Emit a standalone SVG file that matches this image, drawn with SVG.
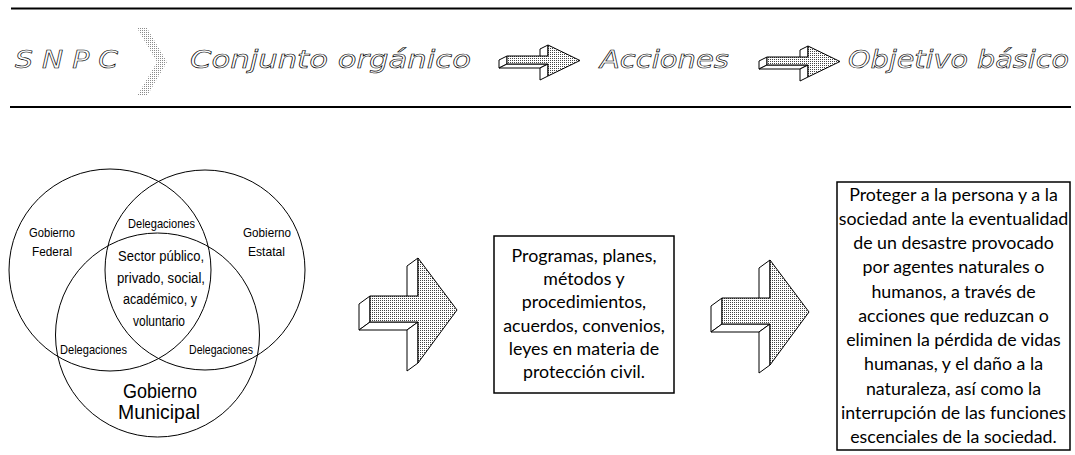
<svg xmlns="http://www.w3.org/2000/svg" width="1075" height="455" viewBox="0 0 1075 455">
<defs>
<pattern id="dots" width="2" height="2" patternUnits="userSpaceOnUse"><rect width="2" height="2" fill="#fff"/><rect width="1" height="1" fill="#444"/></pattern>
<pattern id="dotsLight" width="2" height="2" patternUnits="userSpaceOnUse"><rect width="2" height="2" fill="#fff"/><rect width="1" height="1" fill="#8a8a8a"/></pattern>
<g id="smallArrow">
<polygon class="side" points="507,56 507,64 499,68 499,60"/>
<polygon class="side" points="507,64 548,64 540,68 499,68"/>
<polygon class="side" points="548,45 548,56 540,60 540,49"/>
<polygon class="side" points="548,64 548,76 540,80 540,68"/>
<polygon class="front" points="507,56 548,56 548,45 580,60.5 548,76 548,64 507,64"/>
</g>
<g id="bigArrow">
<polygon class="side" points="370,296 370,322 359,330 359,304"/>
<polygon class="side" points="370,322 418,322 407,330 359,330"/>
<polygon class="side" points="418,258 418,296 407,304 407,266"/>
<polygon class="side" points="418,322 418,363 407,371 407,330"/>
<polygon class="front" points="370,296 418,296 418,258 457,310 418,363 418,322 370,322"/>
</g>
</defs>
<style>
.side{fill:#fff;stroke:#000;stroke-width:1;stroke-linejoin:round}
.front{fill:url(#dots);stroke:#000;stroke-width:1;stroke-linejoin:round}
.hdr{font-family:"DejaVu Sans",sans-serif;font-style:italic;font-size:24px;fill:#fff;stroke:#000;stroke-width:0.6}
.venn{fill:none;stroke:#000;stroke-width:1}
.vt{font-family:"Liberation Sans",Arial,sans-serif;fill:#000}
.bt{font-family:Lato,"Open Sans",sans-serif;font-size:17.8px;fill:#000;text-anchor:middle}
.box{fill:#fff;stroke:#000;stroke-width:1.5}
.rule{stroke:#000;stroke-width:2}
</style>
<rect width="1075" height="455" fill="#fff"/>

<g id="header">
<line class="rule" x1="11" y1="8.5" x2="1072" y2="8.5"/>
<line class="rule" x1="10" y1="107" x2="1071" y2="107"/>
<text class="hdr" x="15" y="68" textLength="103" lengthAdjust="spacingAndGlyphs">S N P C</text>
<polygon points="137,28 147,28 167,62 147,96 137,96 157,62" fill="url(#dotsLight)"/>
<text class="hdr" x="190" y="68" textLength="281" lengthAdjust="spacingAndGlyphs">Conjunto orgánico</text>
<text class="hdr" x="600" y="68" textLength="129" lengthAdjust="spacingAndGlyphs">Acciones</text>
<text class="hdr" x="848" y="68" textLength="221" lengthAdjust="spacingAndGlyphs">Objetivo básico</text>
</g>

<g id="connectors">
<use href="#smallArrow"/>
<use href="#smallArrow" transform="translate(260,1)"/>
<use href="#bigArrow"/>
<use href="#bigArrow" transform="translate(352,2)"/>
</g>

<g id="venn">
<circle class="venn" cx="110" cy="270" r="101"/>
<circle class="venn" cx="205" cy="270" r="100"/>
<circle class="venn" cx="157.5" cy="335" r="102"/>
<text class="vt" font-size="13" x="29" y="237" textLength="46" lengthAdjust="spacingAndGlyphs">Gobierno</text>
<text class="vt" font-size="13" x="32" y="256" textLength="40" lengthAdjust="spacingAndGlyphs">Federal</text>
<text class="vt" font-size="13" x="243" y="237" textLength="48" lengthAdjust="spacingAndGlyphs">Gobierno</text>
<text class="vt" font-size="13" x="248" y="256" textLength="37" lengthAdjust="spacingAndGlyphs">Estatal</text>
<text class="vt" font-size="13" x="128" y="228" textLength="67" lengthAdjust="spacingAndGlyphs">Delegaciones</text>
<text class="vt" font-size="13" x="60" y="354" textLength="67" lengthAdjust="spacingAndGlyphs">Delegaciones</text>
<text class="vt" font-size="13" x="189" y="354" textLength="64" lengthAdjust="spacingAndGlyphs">Delegaciones</text>
<text class="vt" font-size="15.5" x="118" y="261" textLength="86" lengthAdjust="spacingAndGlyphs">Sector público,</text>
<text class="vt" font-size="15.5" x="117" y="283" textLength="88" lengthAdjust="spacingAndGlyphs">privado, social,</text>
<text class="vt" font-size="15.5" x="123" y="304" textLength="74" lengthAdjust="spacingAndGlyphs">académico, y</text>
<text class="vt" font-size="15.5" x="133" y="326" textLength="52" lengthAdjust="spacingAndGlyphs">voluntario</text>
<text class="vt" font-size="20" x="123" y="398" textLength="74" lengthAdjust="spacingAndGlyphs">Gobierno</text>
<text class="vt" font-size="20" x="118" y="419" textLength="82" lengthAdjust="spacingAndGlyphs">Municipal</text>
</g>

<g id="acciones">
<rect class="box" x="494" y="236" width="180" height="157"/>
<text class="bt" x="584" y="262">Programas, planes,</text>
<text class="bt" x="584" y="285">métodos y</text>
<text class="bt" x="584" y="308">procedimientos,</text>
<text class="bt" x="584" y="332">acuerdos, convenios,</text>
<text class="bt" x="584" y="355">leyes en materia de</text>
<text class="bt" x="584" y="378">protección civil.</text>
</g>

<g id="objetivo">
<rect class="box" x="837" y="182" width="233" height="268"/>
<text class="bt" x="953.5" y="201">Proteger a la persona y a la</text>
<text class="bt" x="953.5" y="225">sociedad ante la eventualidad</text>
<text class="bt" x="953.5" y="249">de un desastre provocado</text>
<text class="bt" x="953.5" y="273">por agentes naturales o</text>
<text class="bt" x="953.5" y="298">humanos, a través de</text>
<text class="bt" x="953.5" y="322">acciones que reduzcan o</text>
<text class="bt" x="953.5" y="346">eliminen la pérdida de vidas</text>
<text class="bt" x="953.5" y="370">humanas, y el daño a la</text>
<text class="bt" x="953.5" y="395">naturaleza, así como la</text>
<text class="bt" x="953.5" y="419">interrupción de las funciones</text>
<text class="bt" x="953.5" y="443">escenciales de la sociedad.</text>
</g>
</svg>
